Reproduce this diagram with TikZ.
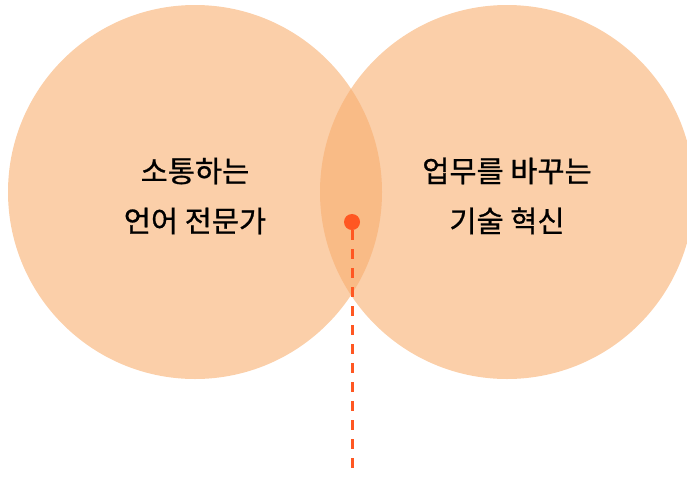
\documentclass[tikz,border=0pt]{standalone}
\usepackage{fontspec}
\newfontfamily\kofont[FakeBold=0.7]{Noto Sans CJK KR}
\definecolor{peach}{HTML}{FBCFA9}
\definecolor{overlap}{HTML}{F9BB86}
\definecolor{accent}{HTML}{FF5722}
\tikzset{
          bubble/.style={circle, fill=peach, minimum size=374pt, inner sep=0pt},
          caption/.style={draw=none, fill=none, align=center, font=\kofont\fontsize{29.5}{50}\selectfont}
        }
\begin{document}
\begin{tikzpicture}[x=1pt, y=-1pt,
        pin dot/.style={circle, fill=accent, minimum size=16pt, inner sep=0pt},
        leader/.style={accent, line width=3pt, dash pattern=on 10pt off 9pt}
      ]
  \useasboundingbox (0,0) rectangle (687,477);

  % two circles
  \node[bubble] (lang) at (195,192) {};
  \node[bubble] (tech) at (507,192) {};
  \begin{scope}
    \clip (195,192) circle (187);
    \fill[overlap] (507,192) circle (187);
  \end{scope}

  \node[caption] (langtxt) at (195,196) {소통하는\\언어 전문가};
  \node[caption] (techtxt) at (507,196) {업무를 바꾸는\\기술 혁신};

  % marker
  \coordinate (tail) at (352,473);
  \draw[leader] (352,230) -- (tail);
  \node[pin dot] (meet) at (352,222) {};

\end{tikzpicture}
\end{document}
